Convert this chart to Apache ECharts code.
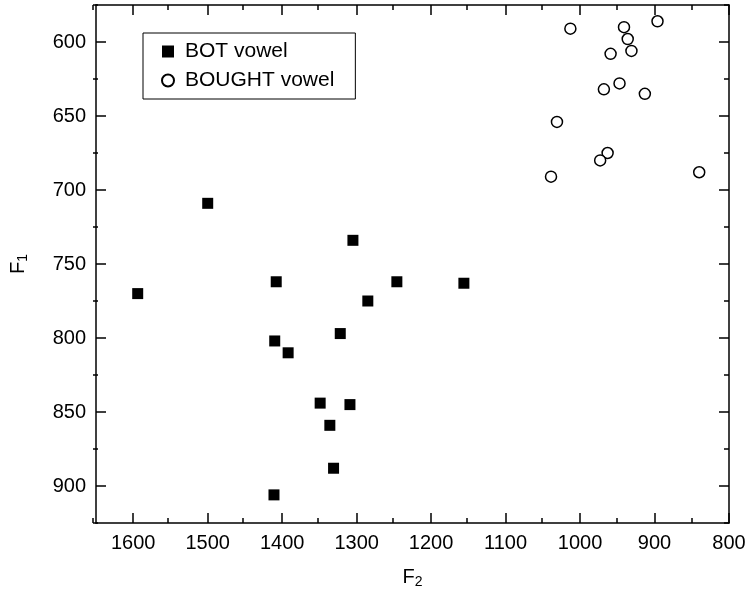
<!DOCTYPE html>
<html>
<head>
<meta charset="utf-8">
<script src="https://cdn.jsdelivr.net/npm/echarts@6/dist/echarts.min.js"></script>
<style>
html,body{margin:0;padding:0;background:#fff;}
#chart{width:750px;height:595px;}
</style>
</head>
<body>
<div id="chart"></div>
<script>
// ---- data ----
var seriesNames = ['BOT vowel', 'BOUGHT vowel'];
var botF2 = [1500, 1594, 1408, 1305, 1246, 1156, 1285, 1410, 1392, 1322, 1349, 1309, 1336, 1331, 1411];
var botF1 = [709, 770, 762, 734, 762, 763, 775, 802, 810, 797, 844, 845, 859, 888, 906];
var boughtF2 = [1013, 941, 896, 936, 959, 931, 947, 968, 913, 1031, 963, 973, 1039, 840];
var boughtF1 = [591, 590, 586, 598, 608, 606, 628, 632, 635, 654, 675, 680, 691, 688];
var xTicks = [1600, 1500, 1400, 1300, 1200, 1100, 1000, 900, 800];
var yTicks = [600, 650, 700, 750, 800, 850, 900];
var xMinorTicks = [1650, 1550, 1450, 1350, 1250, 1150, 1050, 950, 850];
var yMinorTicks = [575, 625, 675, 725, 775, 825, 875, 925];

function pairs(xs, ys) { return xs.map(function (x, i) { return [x, ys[i]]; }); }

var FONT = 'Liberation Sans, Arial, Helvetica, sans-serif';
var lineStyle = { color: '#000', width: 1.5 };
var gridRect = { left: 93, right: 21, top: 5, bottom: 72, containLabel: false };
var plain = function (v) { return String(v); };
var nameStyle = { fontSize: 20, color: '#000', fontFamily: FONT, rich: { s: { fontSize: 14, verticalAlign: 'bottom', padding: [10, 0, 0, 0], fontFamily: FONT, color: '#000' } } };

function xAx(grid, pos, ticks, len, labels, name) {
  return {
    type: 'value', gridIndex: grid, position: pos, inverse: true,
    min: 800, max: 1650,
    axisLine: { show: grid === 0, lineStyle: lineStyle, onZero: false },
    axisTick: { show: true, inside: true, length: len, customValues: ticks, lineStyle: lineStyle },
    axisLabel: labels ? { show: true, customValues: ticks, formatter: plain, fontSize: 20, color: '#000', fontFamily: FONT, margin: 10 } : { show: false },
    splitLine: { show: false },
    name: name || '',
    nameLocation: 'middle', nameGap: 42,
    nameTextStyle: nameStyle
  };
}
function yAx(grid, pos, ticks, len, labels, name) {
  return {
    type: 'value', gridIndex: grid, position: pos, inverse: true,
    min: 575, max: 925,
    axisLine: { show: grid === 0, lineStyle: lineStyle, onZero: false },
    axisTick: { show: true, inside: true, length: len, customValues: ticks, lineStyle: lineStyle },
    axisLabel: labels ? { show: true, customValues: ticks, formatter: plain, fontSize: 20, color: '#000', fontFamily: FONT, margin: 10 } : { show: false },
    splitLine: { show: false },
    name: name || '',
    nameLocation: 'middle', nameGap: 66, nameRotate: 90,
    nameTextStyle: nameStyle
  };
}

var chart = echarts.init(document.getElementById('chart'), null, { renderer: 'canvas' });
chart.setOption({
  backgroundColor: '#fff',
  animation: false,
  grid: [Object.assign({}, gridRect), Object.assign({}, gridRect)],
  xAxis: [
    xAx(0, 'bottom', xTicks, 10, true, 'F{s|2}'),
    xAx(0, 'top', xTicks, 10, null),
    xAx(1, 'bottom', xMinorTicks, 5, null),
    xAx(1, 'top', xMinorTicks, 5, null)
  ],
  yAxis: [
    yAx(0, 'left', yTicks, 10, true, 'F{s|1}'),
    yAx(0, 'right', yTicks, 10, null),
    yAx(1, 'left', yMinorTicks, 5, null),
    yAx(1, 'right', yMinorTicks, 5, null)
  ],
  legend: {
    orient: 'vertical', left: 143, top: 33,
    padding: [8, 21, 8, 18],
    itemGap: 8, itemWidth: 12, itemHeight: 12,
    borderColor: '#000', borderWidth: 1,
    textStyle: { fontSize: 21, color: '#000', fontFamily: FONT, padding: [0, 0, 0, 6] },
    data: seriesNames
  },
  series: [
    {
      name: seriesNames[0], type: 'scatter', xAxisIndex: 0, yAxisIndex: 0,
      symbol: 'rect', symbolSize: 11,
      itemStyle: { color: '#000', opacity: 1 },
      data: pairs(botF2, botF1)
    },
    {
      name: seriesNames[1], type: 'scatter', xAxisIndex: 0, yAxisIndex: 0,
      symbol: 'circle', symbolSize: 11,
      itemStyle: { color: '#fff', borderColor: '#000', borderWidth: 1.5, opacity: 1 },
      data: pairs(boughtF2, boughtF1)
    }
  ]
});
</script>
</body>
</html>
